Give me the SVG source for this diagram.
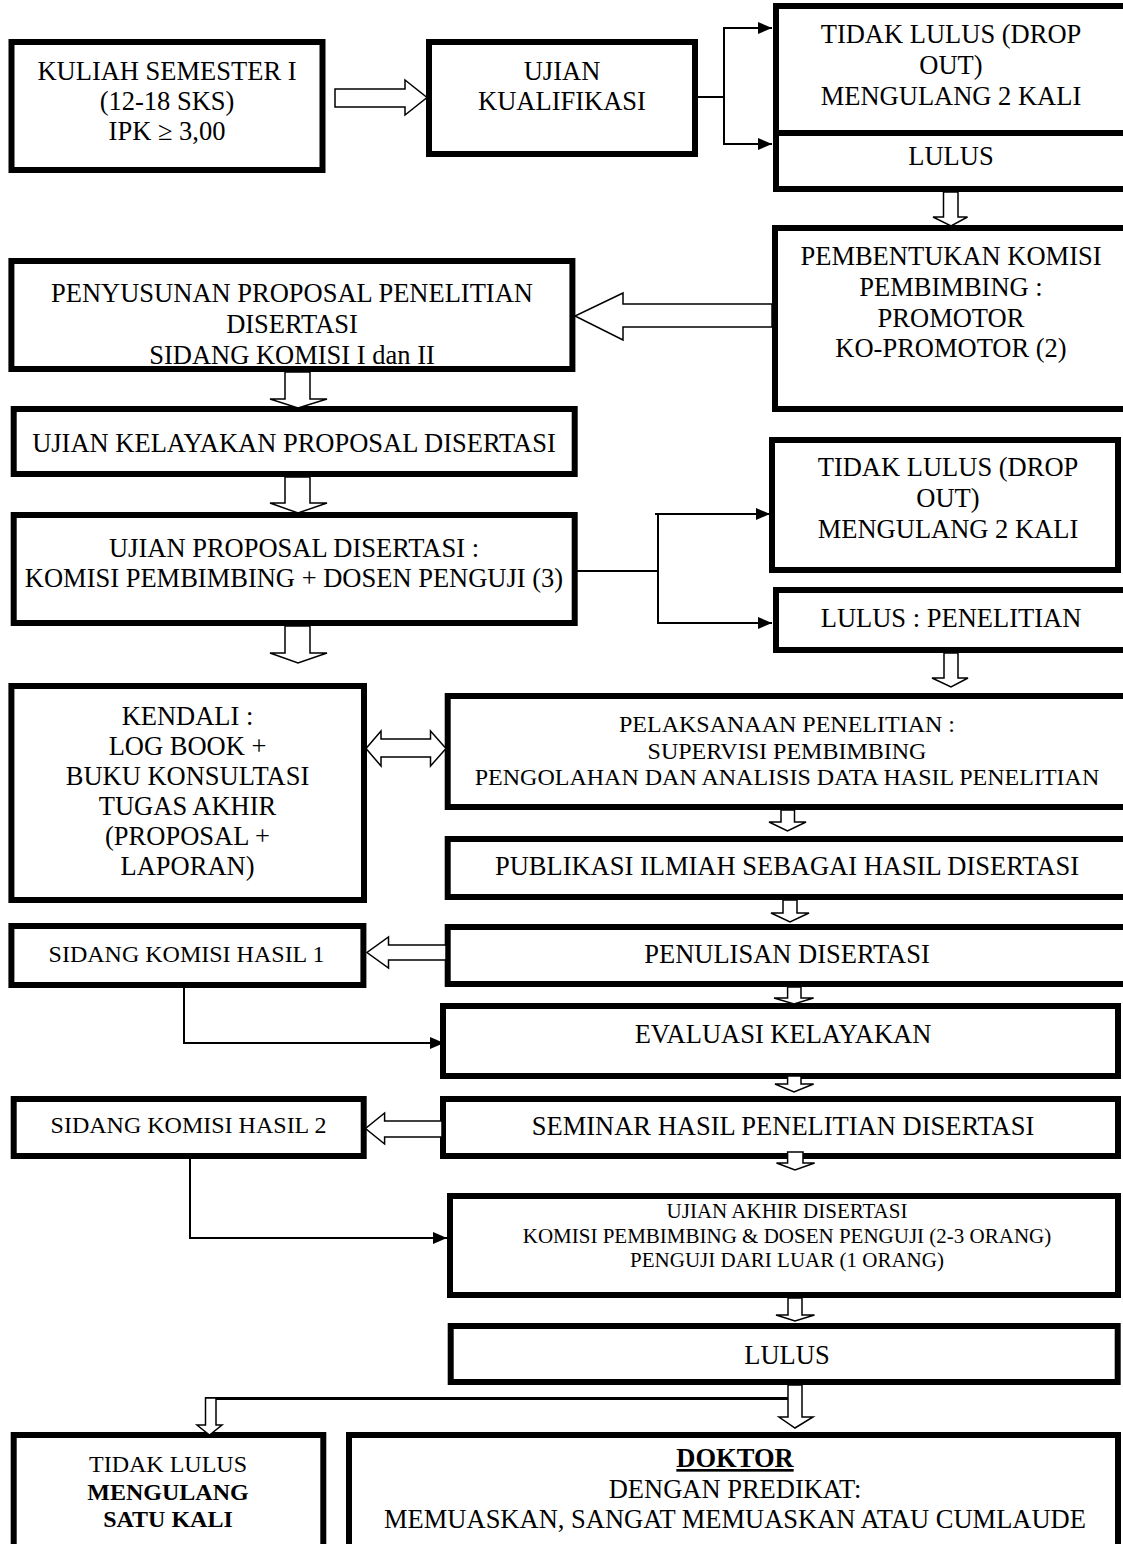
<svg xmlns="http://www.w3.org/2000/svg" width="1123" height="1544" viewBox="0 0 1123 1544">
<style>
.box{fill:#fff;stroke:#000;stroke-width:6}
.t{font-family:"Liberation Serif","Times New Roman",serif;font-size:26.5px;text-anchor:middle;fill:#000}
.m{font-family:"Liberation Serif","Times New Roman",serif;font-size:24px;text-anchor:middle;fill:#000}
.s{font-family:"Liberation Serif","Times New Roman",serif;font-size:21px;text-anchor:middle;fill:#000}
.b{font-weight:bold}
.hollow{fill:#fff;stroke:#000;stroke-width:1.5;stroke-linejoin:miter}
.line{fill:none;stroke:#000;stroke-width:2}
</style>
<defs>
<marker id="ah" markerUnits="userSpaceOnUse" markerWidth="14" markerHeight="12" refX="14" refY="6" orient="auto">
<path d="M0,0 L14,6 L0,12 z" fill="#000"/>
</marker>
</defs>
<rect width="1123" height="1544" fill="#fff"/>

<g id="n-kuliah">
<rect class="box" x="11.5" y="42" width="311" height="128"/>
<text class="t" x="167" y="80">KULIAH SEMESTER I</text>
<text class="t" x="167" y="110">(12-18 SKS)</text>
<text class="t" x="167" y="140">IPK ≥ 3,00</text>
</g>
<g id="n-ujian-kualifikasi">
<rect class="box" x="429" y="42" width="266" height="112"/>
<text class="t" x="562" y="80">UJIAN</text>
<text class="t" x="562" y="110">KUALIFIKASI</text>
</g>
<g id="n-tidak-lulus-1">
<rect class="box" x="776" y="6" width="360" height="127"/>
<text class="t" x="951" y="43">TIDAK LULUS (DROP</text>
<text class="t" x="951" y="74">OUT)</text>
<text class="t" x="951" y="105">MENGULANG 2 KALI</text>
</g>
<g id="n-lulus-1">
<rect class="box" x="776" y="133" width="360" height="56"/>
<text class="t" x="951" y="165">LULUS</text>
</g>
<g id="n-pembentukan">
<rect class="box" x="775" y="228" width="360" height="181"/>
<text class="t" x="951" y="265">PEMBENTUKAN KOMISI</text>
<text class="t" x="951" y="296">PEMBIMBING :</text>
<text class="t" x="951" y="327">PROMOTOR</text>
<text class="t" x="951" y="357">KO-PROMOTOR (2)</text>
</g>
<g id="n-penyusunan">
<rect class="box" x="11.4" y="261" width="561" height="108"/>
<text class="t" x="292" y="302">PENYUSUNAN PROPOSAL PENELITIAN</text>
<text class="t" x="292" y="333">DISERTASI</text>
<text class="t" x="292" y="364">SIDANG KOMISI I dan II</text>
</g>
<g id="n-ujian-kelayakan">
<rect class="box" x="13.7" y="409" width="561" height="65"/>
<text class="t" x="294" y="452">UJIAN KELAYAKAN PROPOSAL DISERTASI</text>
</g>
<g id="n-ujian-proposal">
<rect class="box" x="13.7" y="515" width="561" height="108"/>
<text class="t" x="294" y="557">UJIAN PROPOSAL DISERTASI :</text>
<text class="t" x="294" y="587">KOMISI PEMBIMBING + DOSEN PENGUJI (3)</text>
</g>
<g id="n-tidak-lulus-2">
<rect class="box" x="772" y="440" width="346" height="130"/>
<text class="t" x="948" y="476">TIDAK LULUS (DROP</text>
<text class="t" x="948" y="507">OUT)</text>
<text class="t" x="948" y="538">MENGULANG 2 KALI</text>
</g>
<g id="n-lulus-penelitian">
<rect class="box" x="776" y="590" width="360" height="60"/>
<text class="t" x="951" y="627">LULUS : PENELITIAN</text>
</g>
<g id="n-kendali">
<rect class="box" x="11.4" y="686" width="352.6" height="214"/>
<text class="t" x="187.5" y="725">KENDALI :</text>
<text class="t" x="187.5" y="755">LOG BOOK +</text>
<text class="t" x="187.5" y="785">BUKU KONSULTASI</text>
<text class="t" x="187.5" y="815">TUGAS AKHIR</text>
<text class="t" x="187.5" y="845">(PROPOSAL +</text>
<text class="t" x="187.5" y="875">LAPORAN)</text>
</g>
<g id="n-pelaksanaan">
<rect class="box" x="447.7" y="696" width="690" height="111"/>
<text class="m" x="787" y="732">PELAKSANAAN PENELITIAN :</text>
<text class="m" x="787" y="759">SUPERVISI PEMBIMBING</text>
<text class="m" x="787" y="785">PENGOLAHAN DAN ANALISIS DATA HASIL PENELITIAN</text>
</g>
<g id="n-publikasi">
<rect class="box" x="447.7" y="839" width="690" height="58"/>
<text class="t" x="787" y="875">PUBLIKASI ILMIAH SEBAGAI HASIL DISERTASI</text>
</g>
<g id="n-sidang-1">
<rect class="box" x="11.4" y="926" width="352" height="59"/>
<text class="m" x="186.5" y="962">SIDANG KOMISI HASIL 1</text>
</g>
<g id="n-penulisan">
<rect class="box" x="447.7" y="927" width="690" height="57"/>
<text class="t" x="787" y="963">PENULISAN DISERTASI</text>
</g>
<g id="n-evaluasi">
<rect class="box" x="443" y="1006" width="675" height="70"/>
<text class="t" x="783" y="1043">EVALUASI KELAYAKAN</text>
</g>
<g id="n-sidang-2">
<rect class="box" x="13.7" y="1099" width="350" height="57"/>
<text class="m" x="188.5" y="1133">SIDANG KOMISI HASIL 2</text>
</g>
<g id="n-seminar">
<rect class="box" x="443" y="1099" width="675" height="57"/>
<text class="t" x="783" y="1135">SEMINAR HASIL PENELITIAN DISERTASI</text>
</g>
<g id="n-ujian-akhir">
<rect class="box" x="450" y="1196" width="668" height="99"/>
<text class="s" x="787" y="1218">UJIAN AKHIR DISERTASI</text>
<text class="s" x="787" y="1243">KOMISI PEMBIMBING &amp; DOSEN PENGUJI (2-3 ORANG)</text>
<text class="s" x="787" y="1267">PENGUJI DARI LUAR (1 ORANG)</text>
</g>
<g id="n-lulus-final">
<rect class="box" x="450.7" y="1326" width="667" height="56"/>
<text class="t" x="787" y="1364">LULUS</text>
</g>
<g id="n-tidak-lulus-final">
<rect class="box" x="13.7" y="1435" width="309.6" height="120"/>
<text class="m" x="168" y="1472">TIDAK LULUS</text>
<text class="m b" x="168" y="1500">MENGULANG</text>
<text class="m b" x="168" y="1527">SATU KALI</text>
</g>
<g id="n-doktor">
<rect class="box" x="349" y="1435" width="769" height="120"/>
<text class="t b" x="735" y="1467" text-decoration="underline">DOKTOR</text>
<text class="t" x="735" y="1498">DENGAN PREDIKAT:</text>
<text class="t" x="735" y="1528">MEMUASKAN, SANGAT MEMUASKAN ATAU CUMLAUDE</text>
</g>

<g id="connectors">
<polygon class="hollow" points="335,89 405,89 405,80 427,97.5 405,115 405,107 335,107"/>
<polyline class="line" points="698,97 724,97"/>
<polyline class="line" points="724,28 724,144"/>
<polyline class="line" points="723,28 772,28" marker-end="url(#ah)"/>
<polyline class="line" points="723,144 772,144" marker-end="url(#ah)"/>
<polygon class="hollow" points="943.5,192 958,192 958,217 967.5,217 951,226 933,217 943.5,217"/>
<polygon class="hollow" points="772,304 623,304 623,293 575,316 623,340 623,327 772,327"/>
<polygon class="hollow" points="285,372 310,372 310,399 327,399 298,408 270,399 285,399"/>
<polygon class="hollow" points="285,477 310,477 310,503 327,503 298,513 270,503 285,503"/>
<polyline class="line" points="577,571 658,571"/>
<polyline class="line" points="658,514 658,623"/>
<polyline class="line" points="655,514 770,514" marker-end="url(#ah)"/>
<polyline class="line" points="657,623 772,623" marker-end="url(#ah)"/>
<polygon class="hollow" points="285,626 310,626 310,653 327,653 298,663 270,653 285,653"/>
<polygon class="hollow" points="944,653 958,653 958,678 968,678 951,687 932,678 944,678"/>
<polygon class="hollow" points="366,748.5 381,731 381,739 430.5,739 430.5,731 446,748.5 430.5,766 430.5,757 381,757 381,766"/>
<polygon class="hollow" points="781,810 794.5,810 794.5,822 806,822 787.5,831 769,822 781,822"/>
<polygon class="hollow" points="783,900 797,900 797,913 809,913 790,922 771,913 783,913"/>
<polygon class="hollow" points="446,945 388.5,945 388.5,937 367,952.5 388.5,968 388.5,960 446,960"/>
<polyline class="line" points="184,988 184,1043 444,1043" marker-end="url(#ah)"/>
<polygon class="hollow" points="787.6,987 801,987 801,998 813.6,998 794,1004 774,998 787.6,998"/>
<polygon class="hollow" points="787.6,1076 801,1076 801,1084 813.6,1084 794,1092 775,1084 787.6,1084"/>
<polygon class="hollow" points="442,1121 384.6,1121 384.6,1113 365.5,1128.5 384.6,1144 384.6,1137 442,1137"/>
<polyline class="line" points="190,1159 190,1238 447,1238" marker-end="url(#ah)"/>
<polygon class="hollow" points="787.6,1152 803,1152 803,1163 814.6,1163 795,1170 776.5,1163 787.6,1163"/>
<polygon class="hollow" points="788,1298 802,1298 802,1315 814.5,1315 795,1321 776,1315 788,1315"/>
<polygon class="hollow" points="788,1385 802,1385 802,1417 813,1417 795,1428 779,1417 788,1417"/>
<polyline fill="none" stroke="#000" stroke-width="3" points="788,1398.5 205,1398.5"/>
<polygon class="hollow" points="205.5,1398 216,1398 216,1425 222,1425 209.5,1435 197,1425 205.5,1425"/>
</g>
</svg>
